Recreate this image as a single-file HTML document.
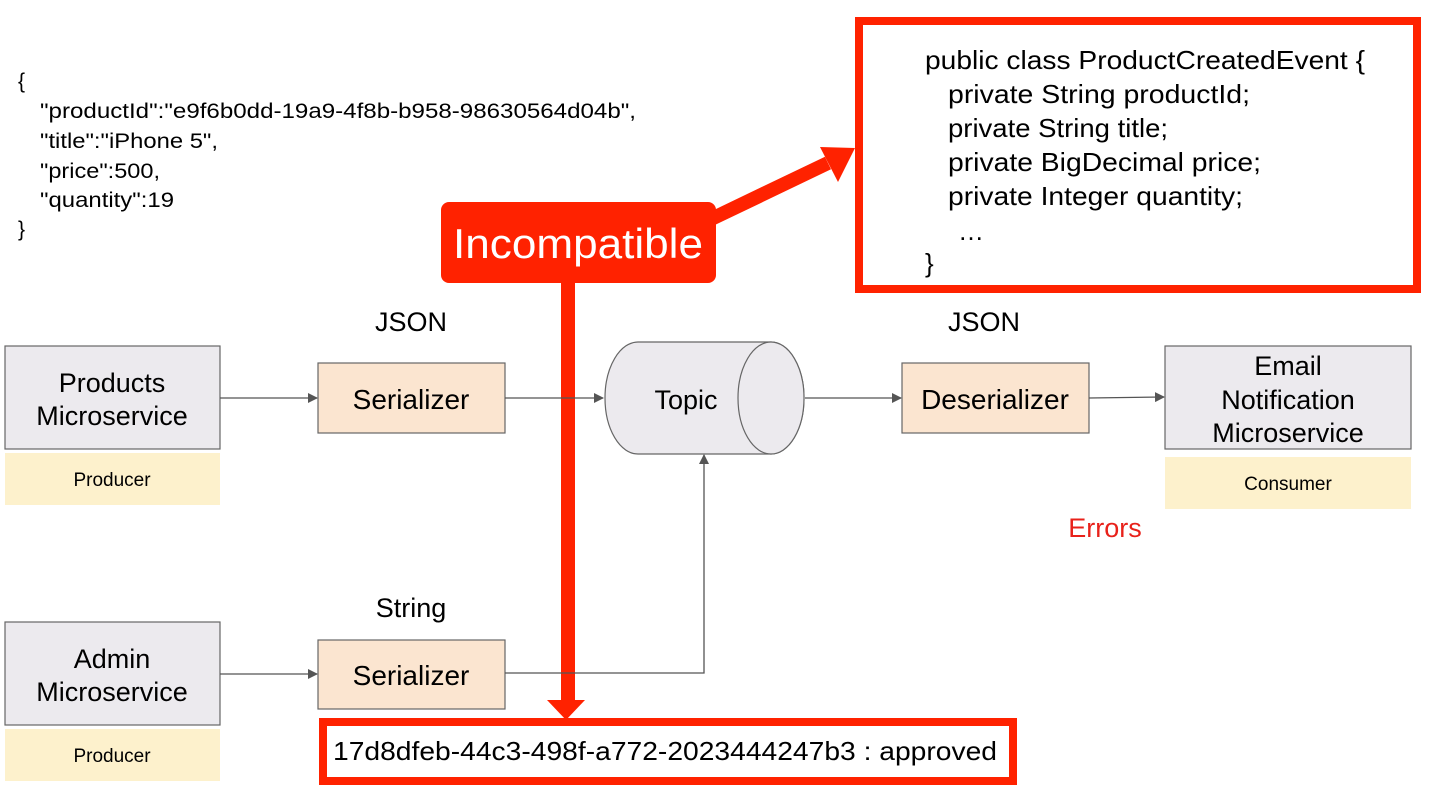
<!DOCTYPE html>
<html><head><style>
body{margin:0;background:#fff;}
svg{display:block;font-family:"Liberation Sans",Arial,sans-serif;}
</style></head><body>
<svg width="1433" height="806" viewBox="0 0 1433 806" xmlns="http://www.w3.org/2000/svg">
<rect width="1433" height="806" fill="#fff"/>
<defs>
<marker id="a" markerWidth="10" markerHeight="10" refX="9" refY="5" orient="auto" markerUnits="userSpaceOnUse"><path d="M0,0 L10,5 L0,10 Z" fill="#555"/></marker>
</defs>
<g font-size="21" fill="#000" lengthAdjust="spacingAndGlyphs">
<text x="18" y="88">{</text>
<text x="40" y="118" textLength="596" lengthAdjust="spacingAndGlyphs">"productId":"e9f6b0dd-19a9-4f8b-b958-98630564d04b",</text>
<text x="40" y="148" textLength="178" lengthAdjust="spacingAndGlyphs">"title":"iPhone 5",</text>
<text x="40" y="178" textLength="120" lengthAdjust="spacingAndGlyphs">"price":500,</text>
<text x="40" y="207" textLength="134" lengthAdjust="spacingAndGlyphs">"quantity":19</text>
<text x="18" y="236">}</text>
</g>
<rect x="859" y="21" width="558" height="268" fill="none" stroke="#ff2200" stroke-width="8"/>
<g font-size="26" fill="#000">
<text x="925" y="69" textLength="440" lengthAdjust="spacingAndGlyphs">public class ProductCreatedEvent {</text>
<text x="948" y="103" textLength="302" lengthAdjust="spacingAndGlyphs">private String productId;</text>
<text x="948" y="137" textLength="220" lengthAdjust="spacingAndGlyphs">private String title;</text>
<text x="948" y="171" textLength="313" lengthAdjust="spacingAndGlyphs">private BigDecimal price;</text>
<text x="948" y="205" textLength="295" lengthAdjust="spacingAndGlyphs">private Integer quantity;</text>
<text x="958" y="240">…</text>
<text x="925" y="272">}</text>
</g>
<line x1="705" y1="222" x2="828" y2="163" stroke="#ff2200" stroke-width="14"/>
<path d="M855,148 L820,147 L838,182 Z" fill="#ff2200"/>
<line x1="568" y1="280" x2="568" y2="702" stroke="#ff2200" stroke-width="14"/>
<path d="M547,700 L585,700 L566,720 Z" fill="#ff2200"/>
<rect x="441" y="202" width="275" height="81" rx="8" fill="#ff2200"/>
<text x="453" y="258" font-size="42" fill="#fff" textLength="250" lengthAdjust="spacingAndGlyphs">Incompatible</text>
<rect x="5" y="346" width="215" height="103" fill="#eceaee" stroke="#666" stroke-width="1.2"/>
<text x="112" y="392" font-size="27" text-anchor="middle">Products</text>
<text x="112" y="425" font-size="27" text-anchor="middle">Microservice</text>
<rect x="5" y="453" width="215" height="52" fill="#fdf1cc"/>
<text x="112" y="486" font-size="19" text-anchor="middle">Producer</text>
<rect x="5" y="622" width="215" height="103" fill="#eceaee" stroke="#666" stroke-width="1.2"/>
<text x="112" y="668" font-size="27" text-anchor="middle">Admin</text>
<text x="112" y="701" font-size="27" text-anchor="middle">Microservice</text>
<rect x="5" y="729" width="215" height="52" fill="#fdf1cc"/>
<text x="112" y="762" font-size="19" text-anchor="middle">Producer</text>
<text x="411" y="331" font-size="27" text-anchor="middle">JSON</text>
<rect x="318" y="363" width="187" height="70" fill="#fbe5d0" stroke="#666" stroke-width="1.2"/>
<text x="411" y="409" font-size="28" text-anchor="middle">Serializer</text>
<text x="411" y="617" font-size="27" text-anchor="middle">String</text>
<rect x="318" y="640" width="187" height="69" fill="#fbe5d0" stroke="#666" stroke-width="1.2"/>
<text x="411" y="685" font-size="28" text-anchor="middle">Serializer</text>
<path d="M638,342 L771,342 A33,56 0 0 1 771,454 L638,454 A33,56 0 0 1 638,342 Z" fill="#eceaee" stroke="#666" stroke-width="1.2"/>
<ellipse cx="771" cy="398" rx="33" ry="56" fill="#eceaee" stroke="#666" stroke-width="1.2"/>
<text x="686" y="409" font-size="27" text-anchor="middle">Topic</text>
<text x="984" y="331" font-size="27" text-anchor="middle">JSON</text>
<rect x="902" y="363" width="187" height="70" fill="#fbe5d0" stroke="#666" stroke-width="1.2"/>
<text x="995" y="409" font-size="28" text-anchor="middle">Deserializer</text>
<rect x="1165" y="346" width="246" height="103" fill="#eceaee" stroke="#666" stroke-width="1.2"/>
<text x="1288" y="375" font-size="27" text-anchor="middle">Email</text>
<text x="1288" y="409" font-size="27" text-anchor="middle">Notification</text>
<text x="1288" y="442" font-size="27" text-anchor="middle">Microservice</text>
<rect x="1165" y="457" width="246" height="52" fill="#fdf1cc"/>
<text x="1288" y="490" font-size="19" text-anchor="middle">Consumer</text>
<text x="1105" y="537" font-size="27" fill="#e8211a" text-anchor="middle">Errors</text>
<g stroke="#555" stroke-width="1.3" fill="none">
<line x1="220" y1="398" x2="317" y2="398" marker-end="url(#a)"/>
<line x1="505" y1="398" x2="603" y2="398" marker-end="url(#a)"/>
<line x1="805" y1="398" x2="901" y2="398" marker-end="url(#a)"/>
<line x1="1089" y1="398" x2="1164" y2="397" marker-end="url(#a)"/>
<line x1="220" y1="674" x2="317" y2="674" marker-end="url(#a)"/>
<polyline points="505,673 704,673 704,455" marker-end="url(#a)"/>
</g>
<rect x="323" y="722" width="690" height="59" fill="#fff" stroke="#ff2200" stroke-width="8"/>
<text x="333" y="760" font-size="26" textLength="664" lengthAdjust="spacingAndGlyphs">17d8dfeb-44c3-498f-a772-2023444247b3 : approved</text>
</svg>
</body></html>
